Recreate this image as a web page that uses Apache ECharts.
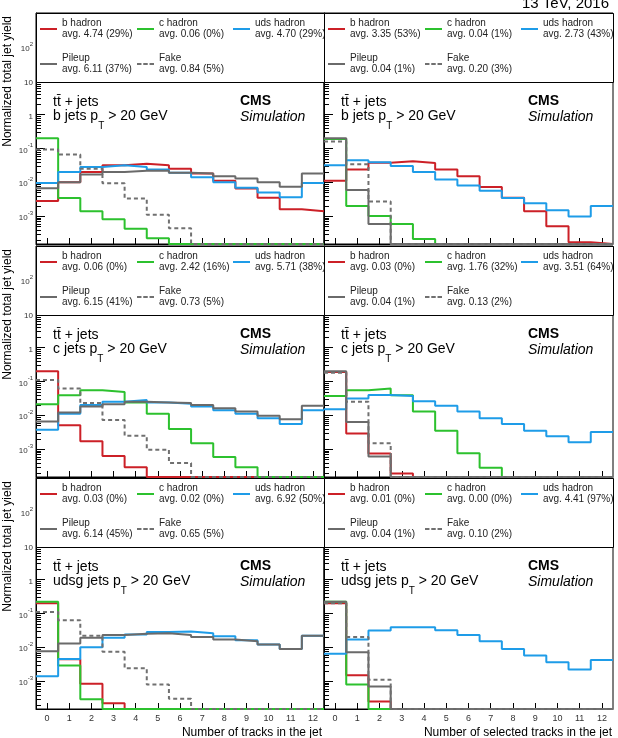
<!DOCTYPE html>
<html>
<head>
<meta charset="utf-8">
<script src="https://cdnjs.cloudflare.com/ajax/libs/echarts/6.0.0/echarts.min.js"></script>
<title>track multiplicity per jet flavour</title>
<style>
  * { margin: 0; padding: 0; }
  body { background: #fff; }
  #main { width: 618px; height: 738px; }
</style>
</head>
<body>
<div id="main"></div>
<script>
// bins = number of tracks
var bins = ['0', '1', '2', '3', '4', '5', '6', '7', '8', '9', '10', '11', '12'];

// b jets, all tracks
var bAllB    = [2.8e-3, 1.0e-2, 2.0e-2, 3.2e-2, 3.5e-2, 3.2e-2, 2.5e-2, 1.8e-2, 1.1e-2, 6.5e-3, 3.5e-3, 1.6e-3, 1.4e-3];
var bAllC    = [0.2, 3.4e-3, 1.4e-3, 8.1e-4, 4.2e-4, 2.2e-4, 0, 0, 0, 0, 0, 0, 0];
var bAllUds  = [9.5e-3, 2.0e-2, 2.8e-2, 3.2e-2, 2.8e-2, 2.4e-2, 1.9e-2, 1.4e-2, 1.0e-2, 6.9e-3, 5.0e-3, 3.6e-3, 9.5e-3];
var bAllPu   = [6.6e-3, 1.0e-2, 1.7e-2, 2.0e-2, 2.2e-2, 2.2e-2, 1.9e-2, 1.8e-2, 1.5e-2, 1.3e-2, 1.0e-2, 7.4e-3, 1.8e-2];
var bAllFake = [9.3e-2, 6.6e-2, 2.5e-2, 9.3e-3, 3.3e-3, 1.1e-3, 4.4e-4, 0, 0, 0, 0, 0, 0];
var bAllAvg  = ['4.74 (29%)', '0.06 (0%)', '4.70 (29%)', '6.11 (37%)', '0.84 (5%)'];

// b jets, selected tracks
var bSelB    = [1.1e-2, 2.4e-2, 3.8e-2, 4.2e-2, 3.7e-2, 2.4e-2, 1.5e-2, 7.3e-3, 3.5e-3, 1.4e-3, 5.0e-4, 1.7e-4, 0];
var bSelC    = [0.19, 2.0e-3, 1.0e-3, 5.8e-4, 2.1e-4, 0, 0, 0, 0, 0, 0, 0, 0];
var bSelUds  = [3.2e-2, 4.5e-2, 3.9e-2, 3.0e-2, 2.0e-2, 1.2e-2, 8.0e-3, 5.6e-3, 3.4e-3, 2.4e-3, 1.5e-3, 9.8e-4, 2.0e-3];
var bSelPu   = [0.2, 5.9e-3, 5.8e-4, 0, 0, 0, 0, 0, 0, 0, 0, 0, 0];
var bSelFake = [0.16, 3.4e-2, 2.7e-3, 0, 0, 0, 0, 0, 0, 0, 0, 0, 0];
var bSelAvg  = ['3.35 (53%)', '0.04 (1%)', '2.73 (43%)', '0.04 (1%)', '0.20 (3%)'];

// c jets, all tracks
var cAllB    = [0.2, 5.1e-3, 1.7e-3, 6.3e-4, 2.9e-4, 0, 0, 0, 0, 0, 0, 0, 0];
var cAllC    = [2.1e-2, 3.9e-2, 5.5e-2, 4.9e-2, 2.4e-2, 1.1e-2, 3.9e-3, 1.5e-3, 5.8e-4, 2.9e-4, 0, 0, 0];
var cAllUds  = [3.7e-3, 1.1e-2, 2.0e-2, 2.5e-2, 2.8e-2, 2.4e-2, 2.2e-2, 1.8e-2, 1.4e-2, 1.1e-2, 8.2e-3, 5.5e-3, 1.4e-2];
var cAllPu   = [6.5e-3, 1.2e-2, 1.8e-2, 2.1e-2, 2.5e-2, 2.4e-2, 2.3e-2, 2.0e-2, 1.6e-2, 1.3e-2, 9.6e-3, 7.6e-3, 1.9e-2];
var cAllFake = [0.11, 6.2e-2, 2.3e-2, 7.3e-3, 2.5e-3, 9.6e-4, 3.9e-4, 0, 0, 0, 0, 0, 0];
var cAllAvg  = ['0.06 (0%)', '2.42 (16%)', '5.71 (38%)', '6.15 (41%)', '0.73 (5%)'];

// c jets, selected tracks
var cSelB    = [0.19, 2.9e-3, 7.4e-4, 1.9e-4, 0, 0, 0, 0, 0, 0, 0, 0, 0];
var cSelC    = [3.7e-2, 5.5e-2, 6.2e-2, 3.9e-2, 1.3e-2, 3.5e-3, 7.6e-4, 2.8e-4, 0, 0, 0, 0, 0];
var cSelUds  = [1.5e-2, 3.1e-2, 4.0e-2, 3.7e-2, 2.6e-2, 1.9e-2, 1.3e-2, 8.2e-3, 5.5e-3, 3.5e-3, 2.4e-3, 1.6e-3, 3.2e-3];
var cSelPu   = [0.2, 6.3e-3, 6.0e-4, 0, 0, 0, 0, 0, 0, 0, 0, 0, 0];
var cSelFake = [0.18, 2.5e-2, 1.5e-3, 0, 0, 0, 0, 0, 0, 0, 0, 0, 0];
var cSelAvg  = ['0.03 (0%)', '1.76 (32%)', '3.51 (64%)', '0.04 (1%)', '0.13 (2%)'];

// udsg jets, all tracks
var lAllB    = [0.2, 4.4e-3, 8.3e-4, 2.2e-4, 0, 0, 0, 0, 0, 0, 0, 0, 0];
var lAllC    = [0.22, 2.9e-3, 2.9e-4, 0, 0, 0, 0, 0, 0, 0, 0, 0, 0];
var lAllUds  = [1.4e-3, 4.5e-3, 1.0e-2, 1.9e-2, 2.4e-2, 2.8e-2, 2.9e-2, 2.6e-2, 2.1e-2, 1.6e-2, 1.2e-2, 8.9e-3, 2.2e-2];
var lAllPu   = [7.6e-3, 1.3e-2, 1.9e-2, 2.3e-2, 2.5e-2, 2.6e-2, 2.3e-2, 2.0e-2, 1.7e-2, 1.5e-2, 1.2e-2, 8.9e-3, 2.2e-2];
var lAllFake = [0.11, 6.3e-2, 2.2e-2, 7.4e-3, 2.4e-3, 7.9e-4, 3.0e-4, 0, 0, 0, 0, 0, 0];
var lAllAvg  = ['0.03 (0%)', '0.02 (0%)', '6.92 (50%)', '6.14 (45%)', '0.65 (5%)'];

// udsg jets, selected tracks
var lSelB    = [0.2, 1.5e-3, 2.5e-4, 0, 0, 0, 0, 0, 0, 0, 0, 0, 0];
var lSelC    = [0.22, 7.9e-4, 0, 0, 0, 0, 0, 0, 0, 0, 0, 0, 0];
var lSelUds  = [6.4e-3, 1.7e-2, 3.1e-2, 3.9e-2, 3.9e-2, 3.2e-2, 2.3e-2, 1.5e-2, 8.9e-3, 5.7e-3, 3.6e-3, 2.2e-3, 4.2e-3];
var lSelPu   = [0.22, 7.1e-3, 6.9e-4, 0, 0, 0, 0, 0, 0, 0, 0, 0, 0];
var lSelFake = [0.2, 2.0e-2, 1.1e-3, 0, 0, 0, 0, 0, 0, 0, 0, 0, 0];
var lSelAvg  = ['0.01 (0%)', '0.00 (0%)', '4.41 (97%)', '0.04 (1%)', '0.10 (2%)'];

var KINDS  = ['b hadron', 'c hadron', 'uds hadron', 'Pileup', 'Fake'];
var COLORS = ['#cc2027', '#2cc12e', '#1e9ce8', '#6a6a6a', '#707070'];

var panels = [
  { jet: 'b',    vals: [bAllB, bAllC, bAllUds, bAllPu, bAllFake], avg: bAllAvg },
  { jet: 'b',    vals: [bSelB, bSelC, bSelUds, bSelPu, bSelFake], avg: bSelAvg },
  { jet: 'c',    vals: [cAllB, cAllC, cAllUds, cAllPu, cAllFake], avg: cAllAvg },
  { jet: 'c',    vals: [cSelB, cSelC, cSelUds, cSelPu, cSelFake], avg: cSelAvg },
  { jet: 'udsg', vals: [lAllB, lAllC, lAllUds, lAllPu, lAllFake], avg: lAllAvg },
  { jet: 'udsg', vals: [lSelB, lSelC, lSelUds, lSelPu, lSelFake], avg: lSelAvg }
];

// layout
var FONT = 'Liberation Sans, Arial, Helvetica, sans-serif';
var ROW_TOP = [13, 246, 478], ROW_H = 231, LEG_H = 69;
var COL_LEFT = [36, 324], COL_W = [288, 289];
var Y_MIN = 1.5e-4, Y_MAX = 1000;
var DASH_ICON = 'path://M0 0h5v2h-5z M7 0h5v2h-5z M14 0h5v2h-5z';

// log-spaced minor ticks 2..9 x 10^e below the legend box
var minorVals = [];
for (var e = -4; e <= 0; e++) {
  for (var m = 2; m <= 9; m++) {
    var v = m * Math.pow(10, e);
    if (v > Y_MIN && v < 10) minorVals.push([-0.5, v]);
  }
}

// histogram -> step points on bin edges, empty bins sit on the frame bottom
function stepData(vals) {
  var d = [];
  for (var i = 0; i < vals.length; i++) {
    d.push([i - 0.5, vals[i] > 0 ? vals[i] : Y_MIN]);
  }
  d.push([vals.length - 0.5, vals[vals.length - 1] > 0 ? vals[vals.length - 1] : Y_MIN]);
  return d;
}

function logLabel(v) {
  var l = Math.log10(v), e = Math.round(l);
  if (Math.abs(l - e) > 1e-6 || e > 2 || e < -3) return '';
  if (e === 1) return '{b|10}';
  if (e === 0) return '{b|1}';
  return '{b|10}{e|' + (e < 0 ? '-' + (-e) : e) + '}';
}

function legendText(name) {
  var parts = name.split('#');
  var k = KINDS.indexOf(parts[0]);
  return parts[0] + '\n' + 'avg. ' + panels[+parts[1]].avg[k];
}

function minorTick(params, api) {
  var pt = api.coord([api.value(0), api.value(1)]);
  return {
    type: 'line',
    shape: { x1: pt[0], y1: Math.round(pt[1]) + 0.5, x2: pt[0] + 5, y2: Math.round(pt[1]) + 0.5 },
    style: { stroke: '#000', lineWidth: 1 }
  };
}

var grids = [], xAxes = [], yAxes = [], series = [], legends = [], graphics = [];

panels.forEach(function (pan, p) {
  var row = Math.floor(p / 2), col = p % 2;
  grids.push({
    left: COL_LEFT[col], top: ROW_TOP[row], width: COL_W[col], height: ROW_H,
    show: true, borderColor: '#000', borderWidth: 1, backgroundColor: 'transparent'
  });
  yAxes.push({
    type: 'log', gridIndex: p, min: Y_MIN, max: Y_MAX, logBase: 10,
    axisLine: { show: true, onZero: false, lineStyle: { color: '#000', width: 1 } },
    axisTick: { show: true, inside: true, length: 9, lineStyle: { color: '#000' } },
    splitLine: { show: false },
    axisLabel: {
      show: col === 0, formatter: logLabel, margin: 3, color: '#333',
      rich: {
        b: { fontSize: 8, lineHeight: 12, verticalAlign: 'bottom', color: '#333', fontFamily: FONT },
        e: { fontSize: 6, lineHeight: 8, verticalAlign: 'top', color: '#333', fontFamily: FONT }
      }
    }
  });
  series.push.apply(series, pan.vals.map(function (vals, k) {
    return {
      type: 'line', name: KINDS[k] + '#' + p,
      xAxisIndex: 6 + p, yAxisIndex: p,
      step: 'end', symbol: 'none', silent: true,
      data: stepData(vals),
      lineStyle: { color: COLORS[k], width: 2, type: k === 4 ? [4, 3] : 'solid' },
      itemStyle: { color: COLORS[k] },
      emphasis: { disabled: true },
      z: 2
    };
  }));
  series.push({
    type: 'custom', name: 'minor#' + p, xAxisIndex: 6 + p, yAxisIndex: p,
    silent: true, z: 1, data: minorVals, renderItem: minorTick
  });

  // legend, 3 columns per panel
  [[0, 3], [1, 4], [2]].forEach(function (ks, c) {
    legends.push({
      orient: 'vertical',
      left: COL_LEFT[col] + [4, 101, 197][c],
      top: ROW_TOP[row] + 5,
      padding: 0, itemGap: 13, itemWidth: 17, itemHeight: 2,
      selectedMode: false,
      z: col === 0 ? 4 : 6,
      data: ks.map(function (k) {
        return { name: KINDS[k] + '#' + p, icon: k === 4 ? DASH_ICON : 'rect' };
      }),
      formatter: legendText,
      textStyle: { fontSize: 10, lineHeight: 11, color: '#222', fontFamily: FONT }
    });
  });

  var x0 = COL_LEFT[col], y0 = ROW_TOP[row];
  graphics.push({
    type: 'rect', silent: true, z: col === 0 ? 3 : 5,
    shape: { x: x0 + 0.5, y: y0 + 0.5, width: COL_W[col], height: LEG_H },
    style: { fill: '#fff', stroke: '#000', lineWidth: 1 }
  });
  graphics.push({
    type: 'text', silent: true, z: 7, x: x0 + 17, y: y0 + 89,
    style: { text: 'tt\u0304 + jets', font: '14px ' + FONT, fill: '#000', textVerticalAlign: 'middle' }
  });
  graphics.push({
    type: 'text', silent: true, z: 7, x: x0 + 17, y: y0 + 96,
    style: {
      text: '{n|' + pan.jet + ' jets p}{s|T}{n| > 20 GeV}', fill: '#000', textVerticalAlign: 'top',
      rich: {
        n: { fontSize: 14, lineHeight: 16, verticalAlign: 'top', fontFamily: FONT },
        s: { fontSize: 10, lineHeight: 34, fontFamily: FONT }
      }
    }
  });
  graphics.push({
    type: 'text', silent: true, z: 7, x: x0 + 204, y: y0 + 88,
    style: { text: 'CMS', font: 'bold 14px ' + FONT, fill: '#000', textVerticalAlign: 'middle' }
  });
  graphics.push({
    type: 'text', silent: true, z: 7, x: x0 + 204, y: y0 + 104,
    style: { text: 'Simulation', font: 'italic 14px ' + FONT, fill: '#000', textVerticalAlign: 'middle' }
  });
});

// visible category axes (ticks / labels at bin centres)
panels.forEach(function (pan, p) {
  var row = Math.floor(p / 2);
  xAxes.push({
    type: 'category', gridIndex: p, data: bins, boundaryGap: true,
    axisLine: { show: true, onZero: false, lineStyle: { color: '#000', width: 1 } },
    axisTick: { show: true, inside: true, alignWithLabel: true, length: 6, lineStyle: { color: '#000' } },
    axisLabel: { show: row === 2, interval: 0, fontSize: 9, color: '#333', margin: 5, fontFamily: FONT },
    splitLine: { show: false }
  });
});
// hidden value axes used to place the bin edges
panels.forEach(function (pan, p) {
  xAxes.push({ type: 'value', gridIndex: p, min: -0.5, max: 12.5, show: false });
});

[0, 1, 2].forEach(function (r) {
  graphics.push({
    type: 'text', silent: true, z: 7, x: 8, y: ROW_TOP[r] + 3, rotation: Math.PI / 2,
    style: { text: 'Normalized total jet yield', font: '12px ' + FONT, fill: '#000', textAlign: 'right', textVerticalAlign: 'middle' }
  });
});
graphics.push({
  type: 'text', silent: true, z: 7, x: 322, y: 733,
  style: { text: 'Number of tracks in the jet', font: '12px ' + FONT, fill: '#000', textAlign: 'right', textVerticalAlign: 'middle' }
});
graphics.push({
  type: 'text', silent: true, z: 7, x: 612, y: 733,
  style: { text: 'Number of selected tracks in the jet', font: '12px ' + FONT, fill: '#000', textAlign: 'right', textVerticalAlign: 'middle' }
});
graphics.push({
  type: 'text', silent: true, z: 7, x: 609, y: 4,
  style: { text: '13 TeV, 2016', font: '15px ' + FONT, fill: '#000', textAlign: 'right', textVerticalAlign: 'middle' }
});

var option = {
  animation: false,
  backgroundColor: '#fff',
  textStyle: { fontFamily: FONT },
  grid: grids,
  xAxis: xAxes,
  yAxis: yAxes,
  legend: legends,
  series: series,
  graphic: { elements: graphics }
};

var chart = echarts.init(document.getElementById('main'));
chart.setOption(option);
</script>
</body>
</html>
